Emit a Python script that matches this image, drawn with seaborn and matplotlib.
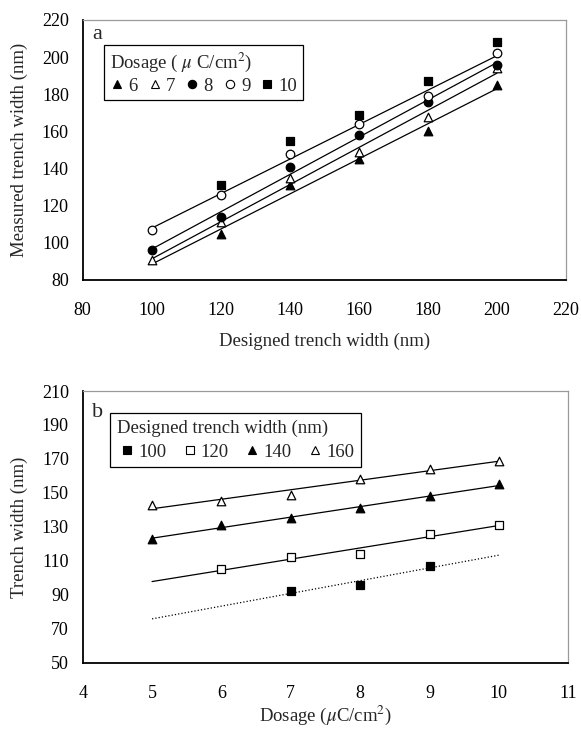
import numpy as np
import pandas as pd
import matplotlib
matplotlib.use("Agg")
import matplotlib.pyplot as plt
from matplotlib.lines import Line2D
import seaborn as sns

# ---------------- data ----------------
designed = [100, 120, 140, 160, 180, 200]
dose_labels = ["6", "7", "8", "9", "10"]
a_d6 = [np.nan, 105, 131, 145, 160, 185]
a_d7 = [91, 111, 135, 149, 168, 194]
a_d8 = [96, 114, 141, 158, 176, 196]
a_d9 = [107, 126, 148, 164, 179, 202]
a_d10 = [np.nan, 131, 155, 169, 187, 208]

dosage = [5, 6, 7, 8, 9, 10]
width_labels = ["100", "120", "140", "160"]
b_w100 = [np.nan, np.nan, 92, 96, 107, np.nan]
b_w120 = [np.nan, 105, 112, 114, 126, 131]
b_w140 = [123, 131, 135, 141, 148, 155]
b_w160 = [143, 145, 149, 158, 164, 169]

# ---------------- style ----------------
sns.set_theme(style="white")
plt.rcParams["font.family"] = ["Liberation Serif", "DejaVu Serif"]
plt.rcParams["mathtext.fontset"] = "stix"
FS_TICK = 13
FS_LAB = 13.5

fig = plt.figure(figsize=(5.81, 7.31), dpi=100)
axa = fig.add_axes([0.1423, 0.6170, 0.8318, 0.3557])
axb = fig.add_axes([0.1423, 0.0934, 0.8358, 0.3717])

MS = 38  # scatter marker area (pt^2)

def style_axes(ax):
    for s in ["left", "bottom"]:
        ax.spines[s].set_color("black")
        ax.spines[s].set_linewidth(1.3)
    for s in ["top", "right"]:
        ax.spines[s].set_color("#9a9a9a")
        ax.spines[s].set_linewidth(0.9)
    ax.tick_params(axis="both", direction="in", length=5, width=0.9,
                   colors="black", labelsize=FS_TICK)
    ax.tick_params(axis="x", pad=16)
    ax.tick_params(axis="y", pad=10)
    ax.grid(False)

def fit_line(ax, x, y, xr, ls="-"):
    x = np.asarray(x, float)
    y = np.asarray(y, float)
    m = ~np.isnan(y)
    k, b = np.polyfit(x[m], y[m], 1)
    xs = np.array(xr, float)
    df = pd.DataFrame({"x": xs, "y": k * xs + b})
    sns.lineplot(data=df, x="x", y="y", ax=ax, color="black", lw=0.9,
                 linestyle=ls, legend=False)

def pts(ax, x, y, marker, filled):
    df = pd.DataFrame({"x": x, "y": y}).dropna()
    sns.scatterplot(data=df, x="x", y="y", ax=ax, marker=marker,
                    s=MS, color="black" if filled else "white",
                    edgecolor="black", linewidth=0.9, legend=False, zorder=3)

# ---------------- panel a ----------------
a_series = [a_d6, a_d7, a_d8, a_d9, a_d10]
a_marks = [("^", True), ("^", False), ("o", True), ("o", False), ("s", True)]
for i, ys in enumerate(a_series[:4]):
    fit_line(axa, designed, ys, [designed[0], designed[-1]])
for ys, (mk, f) in zip(a_series, a_marks):
    pts(axa, designed, ys, mk, f)

axa.set_xlim(80, 220)
axa.set_ylim(80, 220)
axa.set_xticks(np.arange(80, 221, 20))
axa.set_yticks(np.arange(80, 221, 20))
style_axes(axa)
axa.set_xlabel("Designed trench width (nm)", fontsize=FS_LAB, labelpad=10)
axa.set_ylabel("Measured trench width (nm)", fontsize=FS_LAB, labelpad=10)
axa.text(0.019, 0.927, "a", transform=axa.transAxes, fontsize=16,
         va="baseline", ha="left")

def handles(marks):
    hs = []
    for mk, f in marks:
        hs.append(Line2D([], [], marker=mk, linestyle="none", markersize=6,
                         markerfacecolor="black" if f else "white",
                         markeredgecolor="black", markeredgewidth=0.8))
    return hs

lega = axa.legend(handles(a_marks), dose_labels, ncol=5,
                  title="Dosage ( $\\mu$ C/cm$^2$)", title_fontsize=FS_LAB,
                  fontsize=FS_LAB, loc="upper left",
                  bbox_to_anchor=(0.0447, 0.904), frameon=True, fancybox=False,
                  edgecolor="black", framealpha=1, handlelength=0.8,
                  handletextpad=0.2, columnspacing=0.5, borderpad=0.3,
                  labelspacing=0.2, alignment="left", borderaxespad=0)
lega.get_frame().set_linewidth(0.9)

# ---------------- panel b ----------------
b_series = [b_w100, b_w120, b_w140, b_w160]
b_marks = [("s", True), ("s", False), ("^", True), ("^", False)]
b_ls = [":", "-", "-", "-"]
for ys, ls in zip(b_series, b_ls):
    fit_line(axb, dosage, ys, [dosage[0], dosage[-1]], ls=ls)
for ys, (mk, f) in zip(b_series, b_marks):
    pts(axb, dosage, ys, mk, f)

axb.set_xlim(4, 11)
axb.set_ylim(50, 210)
axb.set_xticks(np.arange(4, 12, 1))
axb.set_yticks(np.arange(50, 211, 20))
style_axes(axb)
axb.set_xlabel("Dosage ($\\mu$C/cm$^2$)", fontsize=FS_LAB, labelpad=1)
axb.set_ylabel("Trench width (nm)", fontsize=FS_LAB, labelpad=10)
axb.text(0.019, 0.904, "b", transform=axb.transAxes, fontsize=16,
         va="baseline", ha="left")

legb = axb.legend(handles(b_marks), width_labels, ncol=4,
                  title="Designed trench width (nm)", title_fontsize=FS_LAB,
                  fontsize=FS_LAB, loc="upper left",
                  bbox_to_anchor=(0.0562, 0.919), frameon=True, fancybox=False,
                  edgecolor="black", framealpha=1, handlelength=1.1,
                  handletextpad=0.05, columnspacing=0.7, borderpad=0.35,
                  labelspacing=0.35, alignment="left", borderaxespad=0)
legb.get_frame().set_linewidth(0.9)

fig.savefig("out.png", dpi=100)
